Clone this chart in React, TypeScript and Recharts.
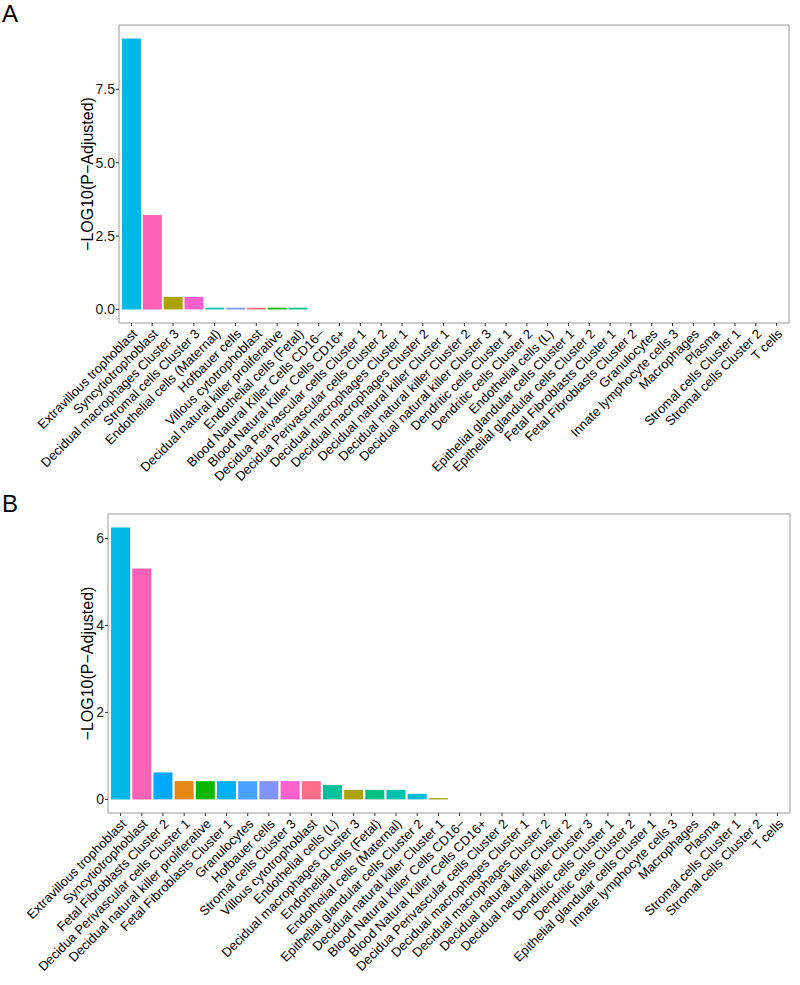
import React from 'react';
import { BarChart, Bar, XAxis, YAxis, Cell } from 'recharts';

// factor levels (alphabetical) -> colour index, like ggplot's hue palette
const cellTypes = [
  'Blood Natural Killer Cells CD16−',
  'Blood Natural Killer Cells CD16+',
  'Decidua Perivascular cells Cluster 1',
  'Decidua Perivascular cells Cluster 2',
  'Decidual macrophages Cluster 1',
  'Decidual macrophages Cluster 2',
  'Decidual macrophages Cluster 3',
  'Decidual natural killer Cluster 1',
  'Decidual natural killer Cluster 2',
  'Decidual natural killer Cluster 3',
  'Decidual natural killer proliferative',
  'Dendritic cells Cluster 1',
  'Dendritic cells Cluster 2',
  'Endothelial cells (Fetal)',
  'Endothelial cells (L)',
  'Endothelial cells (Maternal)',
  'Epithelial glandular cells Cluster 1',
  'Epithelial glandular cells Cluster 2',
  'Extravillous trophoblast',
  'Fetal Fibroblasts Cluster 1',
  'Fetal Fibroblasts Cluster 2',
  'Granulocytes',
  'Hofbauer cells',
  'Innate lymphocyte cells 3',
  'Macrophages',
  'Plasma',
  'Stromal cells Cluster 1',
  'Stromal cells Cluster 2',
  'Stromal cells Cluster 3',
  'Syncytiotrophoblast',
  'T cells',
  'Villous cytotrophoblast',
];

const categoriesA = [
  'Extravillous trophoblast',
  'Syncytiotrophoblast',
  'Decidual macrophages Cluster 3',
  'Stromal cells Cluster 3',
  'Endothelial cells (Maternal)',
  'Hofbauer cells',
  'Villous cytotrophoblast',
  'Decidual natural killer proliferative',
  'Endothelial cells (Fetal)',
  'Blood Natural Killer Cells CD16−',
  'Blood Natural Killer Cells CD16+',
  'Decidua Perivascular cells Cluster 1',
  'Decidua Perivascular cells Cluster 2',
  'Decidual macrophages Cluster 1',
  'Decidual macrophages Cluster 2',
  'Decidual natural killer Cluster 1',
  'Decidual natural killer Cluster 2',
  'Decidual natural killer Cluster 3',
  'Dendritic cells Cluster 1',
  'Dendritic cells Cluster 2',
  'Endothelial cells (L)',
  'Epithelial glandular cells Cluster 1',
  'Epithelial glandular cells Cluster 2',
  'Fetal Fibroblasts Cluster 1',
  'Fetal Fibroblasts Cluster 2',
  'Granulocytes',
  'Innate lymphocyte cells 3',
  'Macrophages',
  'Plasma',
  'Stromal cells Cluster 1',
  'Stromal cells Cluster 2',
  'T cells',
];
const valuesA = [
  9.23, 3.22, 0.43, 0.43, 0.06, 0.06, 0.06, 0.06, 0.06, 0, 0, 0, 0, 0, 0, 0,
  0, 0, 0, 0, 0, 0, 0, 0, 0, 0, 0, 0, 0, 0, 0, 0,
];

const categoriesB = [
  'Extravillous trophoblast',
  'Syncytiotrophoblast',
  'Fetal Fibroblasts Cluster 2',
  'Decidua Perivascular cells Cluster 1',
  'Decidual natural killer proliferative',
  'Fetal Fibroblasts Cluster 1',
  'Granulocytes',
  'Hofbauer cells',
  'Stromal cells Cluster 3',
  'Villous cytotrophoblast',
  'Endothelial cells (L)',
  'Decidual macrophages Cluster 3',
  'Endothelial cells (Fetal)',
  'Endothelial cells (Maternal)',
  'Epithelial glandular cells Cluster 2',
  'Decidual natural killer Cluster 1',
  'Blood Natural Killer Cells CD16−',
  'Blood Natural Killer Cells CD16+',
  'Decidua Perivascular cells Cluster 2',
  'Decidual macrophages Cluster 1',
  'Decidual macrophages Cluster 2',
  'Decidual natural killer Cluster 2',
  'Decidual natural killer Cluster 3',
  'Dendritic cells Cluster 1',
  'Dendritic cells Cluster 2',
  'Epithelial glandular cells Cluster 1',
  'Innate lymphocyte cells 3',
  'Macrophages',
  'Plasma',
  'Stromal cells Cluster 1',
  'Stromal cells Cluster 2',
  'T cells',
];
const valuesB = [
  6.25, 5.31, 0.62, 0.42, 0.42, 0.42, 0.42, 0.42, 0.42, 0.42, 0.33, 0.22, 0.22,
  0.22, 0.13, 0.03, 0, 0, 0, 0, 0, 0, 0, 0, 0, 0, 0, 0, 0, 0, 0, 0,
];

const ticksA = [0, 2.5, 5, 7.5];
const ticksB = [0, 2, 4, 6];

const FONT = '"Liberation Sans", Arial, Helvetica, sans-serif';
const BORDER = '#9a9a9a';

// hcl(h, 100, 65) -> hex, same as R's grDevices::hcl
function hcl(h: number, c = 100, l = 65) {
  const hr = (h * Math.PI) / 180;
  const U = c * Math.cos(hr);
  const V = c * Math.sin(hr);
  const Xn = 95.047, Yn = 100, Zn = 108.883;
  const Y = Yn * Math.pow((l + 16) / 116, 3);
  const t = Xn + 15 * Yn + 3 * Zn;
  const un = (4 * Xn) / t;
  const vn = (9 * Yn) / t;
  const Q = U / (13 * l) + un;
  const R = V / (13 * l) + vn;
  const X = (9 * Y * Q) / (4 * R);
  const Z = -X / 3 - 5 * Y + (3 * Y) / R;
  const x = X / 100, y = Y / 100, z = Z / 100;
  const lin = [
    3.240479 * x - 1.53715 * y - 0.498535 * z,
    -0.969256 * x + 1.875992 * y + 0.041556 * z,
    0.055648 * x - 0.204043 * y + 1.057311 * z,
  ];
  return (
    '#' +
    lin
      .map((v) => {
        const g = v <= 0.0031308 ? 12.92 * v : 1.055 * Math.pow(v, 1 / 2.4) - 0.055;
        const n = Math.round(Math.min(1, Math.max(0, g)) * 255);
        return n.toString(16).padStart(2, '0');
      })
      .join('')
  );
}

const colorOf = (name: string) => {
  const i = cellTypes.indexOf(name);
  return hcl((15 + (360 * i) / cellTypes.length) % 360);
};

const AngledTick = ({ x, y, payload }: any) => (
  <g transform={`translate(${x},${y})`}>
    <text
      x={0}
      y={0}
      dy="0.72em"
      textAnchor="end"
      transform="rotate(-45)"
      fontSize={13}
      fill="#000"
    >
      {payload.value}
    </text>
  </g>
);

const NoTick = () => <g />;

interface PanelProps {
  categories: string[];
  values: number[];
  ticks: number[];
  domain: [number, number];
  digits: number;
  width: number;
  height: number;
  yWidth: number;
  xHeight: number;
  top: number;
  right: number;
  titleDx: number;
}

function Panel(p: PanelProps) {
  const data = p.categories.map((name, i) => ({ name, value: p.values[i] }));
  return (
    <BarChart
      width={p.width}
      height={p.height}
      data={data}
      margin={{ top: p.top - 1, right: p.right - 1, left: 0, bottom: 0 }}
      barCategoryGap="5%"
    >
      <XAxis
        dataKey="name"
        interval={0}
        height={p.xHeight}
        padding={{ left: 2, right: 2 }}
        tick={<AngledTick />}
        tickSize={3}
        tickMargin={2}
        axisLine={{ stroke: BORDER }}
        tickLine={{ stroke: '#333' }}
      />
      <XAxis
        xAxisId="top"
        dataKey="name"
        orientation="top"
        height={1}
        interval={0}
        tick={<NoTick />}
        tickLine={false}
        axisLine={{ stroke: BORDER }}
      />
      <YAxis
        type="number"
        domain={p.domain}
        allowDataOverflow
        ticks={p.ticks}
        width={p.yWidth}
        tickSize={3}
        tickMargin={1}
        tickFormatter={(v: number) => v.toFixed(p.digits)}
        tick={{ fontSize: 14, fill: '#1a1a1a' }}
        axisLine={{ stroke: BORDER }}
        tickLine={{ stroke: '#333' }}
        label={{
          value: '−LOG10(P−Adjusted)',
          angle: -90,
          position: 'center',
          dx: p.titleDx,
          style: { fontSize: 16, fill: '#000' },
        }}
      />
      <YAxis
        yAxisId="right"
        orientation="right"
        type="number"
        domain={p.domain}
        allowDataOverflow
        ticks={p.ticks}
        width={1}
        tick={<NoTick />}
        tickLine={false}
        axisLine={{ stroke: BORDER }}
      />
      <Bar dataKey="value" isAnimationActive={false}>
        {data.map((d) => (
          <Cell key={d.name} fill={colorOf(d.name)} />
        ))}
      </Bar>
    </BarChart>
  );
}

export default function App() {
  return (
    <div
      style={{
        position: 'absolute',
        left: 0,
        top: 0,
        width: 800,
        height: 985,
        background: '#fff',
        fontFamily: FONT,
      }}
    >
      <div style={{ position: 'absolute', left: 0, top: 0 }}>
        <Panel
          categories={categoriesA}
          values={valuesA}
          ticks={ticksA}
          domain={[-0.4615, 9.6915]}
          digits={1}
          width={800}
          height={490}
          yWidth={119}
          xHeight={167}
          top={25}
          right={11}
          titleDx={28}
        />
      </div>
      <div style={{ position: 'absolute', left: 0, top: 490 }}>
        <Panel
          categories={categoriesB}
          values={valuesB}
          ticks={ticksB}
          domain={[-0.3125, 6.5625]}
          digits={0}
          width={800}
          height={495}
          yWidth={108}
          xHeight={172}
          top={24}
          right={10}
          titleDx={33}
        />
      </div>
      <div style={{ position: 'absolute', left: 2, top: 1, fontSize: 24, lineHeight: '26px' }}>A</div>
      <div style={{ position: 'absolute', left: 2, top: 491, fontSize: 24, lineHeight: '26px' }}>B</div>
    </div>
  );
}
